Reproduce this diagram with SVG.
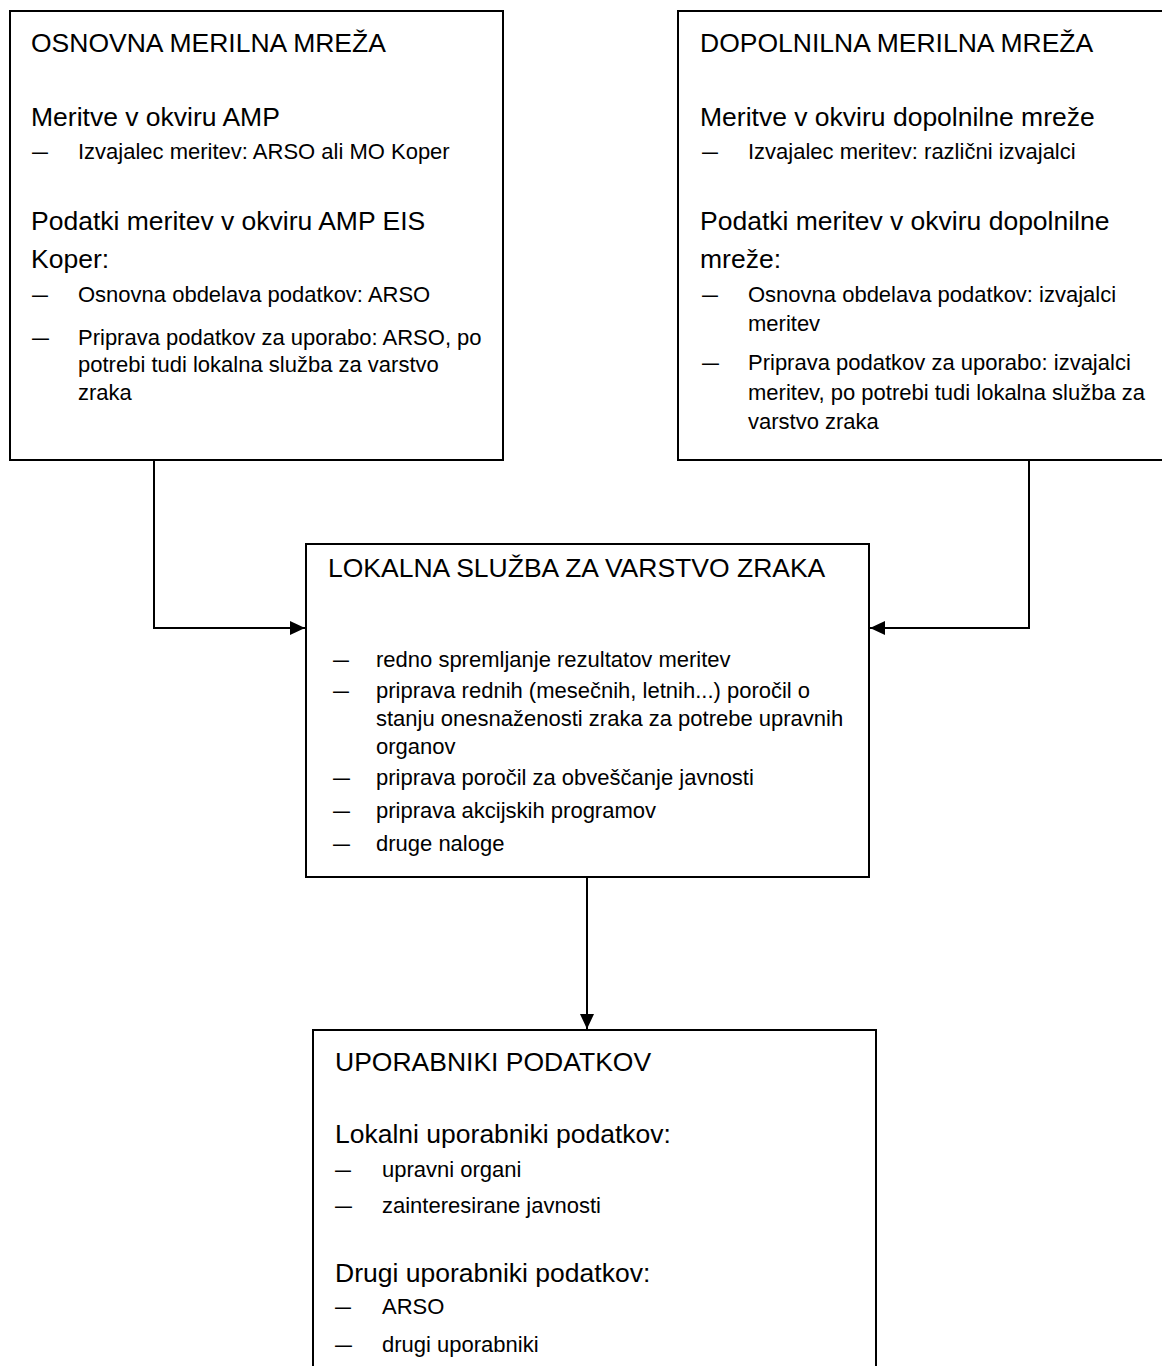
<svg xmlns="http://www.w3.org/2000/svg" width="1162" height="1366" viewBox="0 0 1162 1366">
<style>
.box{fill:#fff;stroke:#000;stroke-width:2}
.h{font-family:"Liberation Sans",Arial,sans-serif;font-size:26.5px;fill:#000}
.t{font-family:"Liberation Sans",Arial,sans-serif;font-size:22px;fill:#000}
.conn{fill:none;stroke:#000;stroke-width:2}
</style>
<defs>
<marker id="arr" markerUnits="userSpaceOnUse" markerWidth="16" markerHeight="14" refX="15" refY="7" orient="auto">
<path d="M0,0 L15,7 L0,14 z" fill="#000"/>
</marker>
</defs>
<rect width="1162" height="1366" fill="#fff"/>
<g id="connectors">
<path class="conn" d="M154,460 V628 H305" marker-end="url(#arr)"/>
<path class="conn" d="M1029,460 V628 H870" marker-end="url(#arr)"/>
<path class="conn" d="M587,877 V1029" marker-end="url(#arr)"/>
</g>
<g id="osnovna">
<rect class="box" x="10" y="11" width="493" height="449"/>
<text class="h" x="31" y="52">OSNOVNA MERILNA MREŽA</text>
<text class="h" x="31" y="126">Meritve v okviru AMP</text>
<text class="t" x="32" y="159" textLength="16" lengthAdjust="spacingAndGlyphs">–</text>
<text class="t" x="78" y="159">Izvajalec meritev: ARSO ali MO Koper</text>
<text class="h" x="31" y="230">Podatki meritev v okviru AMP EIS</text>
<text class="h" x="31" y="268">Koper:</text>
<text class="t" x="32" y="302" textLength="16" lengthAdjust="spacingAndGlyphs">–</text>
<text class="t" x="78" y="302">Osnovna obdelava podatkov: ARSO</text>
<text class="t" x="32" y="345" textLength="17" lengthAdjust="spacingAndGlyphs">–</text>
<text class="t" x="78" y="345">Priprava podatkov za uporabo: ARSO, po</text>
<text class="t" x="78" y="372">potrebi tudi lokalna služba za varstvo</text>
<text class="t" x="78" y="400">zraka</text>
</g>
<g id="dopolnilna">
<rect class="box" x="678" y="11" width="500" height="449"/>
<text class="h" x="700" y="52">DOPOLNILNA MERILNA MREŽA</text>
<text class="h" x="700" y="126">Meritve v okviru dopolnilne mreže</text>
<text class="t" x="702" y="159" textLength="16" lengthAdjust="spacingAndGlyphs">–</text>
<text class="t" x="748" y="159">Izvajalec meritev: različni izvajalci</text>
<text class="h" x="700" y="230">Podatki meritev v okviru dopolnilne</text>
<text class="h" x="700" y="268">mreže:</text>
<text class="t" x="702" y="302" textLength="16" lengthAdjust="spacingAndGlyphs">–</text>
<text class="t" x="748" y="302">Osnovna obdelava podatkov: izvajalci</text>
<text class="t" x="748" y="331">meritev</text>
<text class="t" x="702" y="370" textLength="17" lengthAdjust="spacingAndGlyphs">–</text>
<text class="t" x="748" y="370">Priprava podatkov za uporabo: izvajalci</text>
<text class="t" x="748" y="400">meritev, po potrebi tudi lokalna služba za</text>
<text class="t" x="748" y="429">varstvo zraka</text>
</g>
<g id="lokalna">
<rect class="box" x="306" y="544" width="563" height="333"/>
<text class="h" x="328" y="577">LOKALNA SLUŽBA ZA VARSTVO ZRAKA</text>
<text class="t" x="333" y="667" textLength="16" lengthAdjust="spacingAndGlyphs">–</text>
<text class="t" x="376" y="667">redno spremljanje rezultatov meritev</text>
<text class="t" x="333" y="698" textLength="16" lengthAdjust="spacingAndGlyphs">–</text>
<text class="t" x="376" y="698">priprava rednih (mesečnih, letnih...) poročil o</text>
<text class="t" x="376" y="726">stanju onesnaženosti zraka za potrebe upravnih</text>
<text class="t" x="376" y="754">organov</text>
<text class="t" x="333" y="785" textLength="17" lengthAdjust="spacingAndGlyphs">–</text>
<text class="t" x="376" y="785">priprava poročil za obveščanje javnosti</text>
<text class="t" x="333" y="818" textLength="17" lengthAdjust="spacingAndGlyphs">–</text>
<text class="t" x="376" y="818">priprava akcijskih programov</text>
<text class="t" x="333" y="851" textLength="17" lengthAdjust="spacingAndGlyphs">–</text>
<text class="t" x="376" y="851">druge naloge</text>
</g>
<g id="uporabniki">
<rect class="box" x="313" y="1030" width="563" height="360"/>
<text class="h" x="335" y="1071">UPORABNIKI PODATKOV</text>
<text class="h" x="335" y="1143">Lokalni uporabniki podatkov:</text>
<text class="t" x="335" y="1177" textLength="16" lengthAdjust="spacingAndGlyphs">–</text>
<text class="t" x="382" y="1177">upravni organi</text>
<text class="t" x="335" y="1213" textLength="17" lengthAdjust="spacingAndGlyphs">–</text>
<text class="t" x="382" y="1213">zainteresirane javnosti</text>
<text class="h" x="335" y="1282">Drugi uporabniki podatkov:</text>
<text class="t" x="335" y="1314" textLength="16" lengthAdjust="spacingAndGlyphs">–</text>
<text class="t" x="382" y="1314">ARSO</text>
<text class="t" x="335" y="1352" textLength="17" lengthAdjust="spacingAndGlyphs">–</text>
<text class="t" x="382" y="1352">drugi uporabniki</text>
</g>
</svg>
